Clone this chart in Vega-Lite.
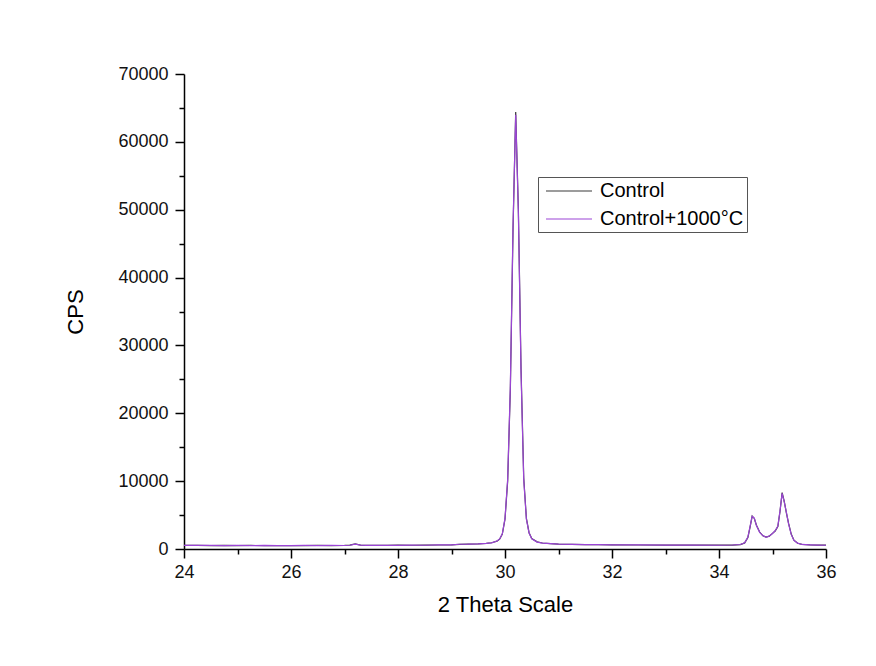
{
  "$schema": "https://vega.github.io/schema/vega-lite/v6.json",
  "width": 642,
  "height": 475,
  "autosize": "none",
  "padding": {"left": 184, "top": 74, "right": 50, "bottom": 117},
  "background": "white",
  "config": {
    "view": {"stroke": null},
    "font": "Liberation Sans",
    "axis": {
      "grid": false,
      "domainColor": "#000000",
      "domainWidth": 1.5,
      "tickColor": "#000000",
      "tickWidth": 1.5,
      "labelFont": "Liberation Sans",
      "labelFontSize": 18,
      "labelColor": "#111111",
      "labelFlush": false,
      "titleFont": "Liberation Sans",
      "titleFontSize": 22,
      "titleFontWeight": "normal",
      "titleColor": "#000000"
    }
  },
  "datasets": {
    "xrd": [
      {"x": 24.0, "cps": 520, "series": "Control"},
      {"x": 24.25, "cps": 540, "series": "Control"},
      {"x": 24.5, "cps": 510, "series": "Control"},
      {"x": 24.75, "cps": 530, "series": "Control"},
      {"x": 25.0, "cps": 500, "series": "Control"},
      {"x": 25.25, "cps": 520, "series": "Control"},
      {"x": 25.5, "cps": 510, "series": "Control"},
      {"x": 25.75, "cps": 490, "series": "Control"},
      {"x": 26.0, "cps": 510, "series": "Control"},
      {"x": 26.25, "cps": 500, "series": "Control"},
      {"x": 26.5, "cps": 520, "series": "Control"},
      {"x": 26.75, "cps": 510, "series": "Control"},
      {"x": 27.0, "cps": 530, "series": "Control"},
      {"x": 27.1, "cps": 560, "series": "Control"},
      {"x": 27.2, "cps": 760, "series": "Control"},
      {"x": 27.3, "cps": 580, "series": "Control"},
      {"x": 27.4, "cps": 530, "series": "Control"},
      {"x": 27.6, "cps": 520, "series": "Control"},
      {"x": 27.8, "cps": 540, "series": "Control"},
      {"x": 28.0, "cps": 560, "series": "Control"},
      {"x": 28.25, "cps": 550, "series": "Control"},
      {"x": 28.5, "cps": 570, "series": "Control"},
      {"x": 28.75, "cps": 590, "series": "Control"},
      {"x": 29.0, "cps": 620, "series": "Control"},
      {"x": 29.15, "cps": 680, "series": "Control"},
      {"x": 29.3, "cps": 720, "series": "Control"},
      {"x": 29.5, "cps": 750, "series": "Control"},
      {"x": 29.65, "cps": 820, "series": "Control"},
      {"x": 29.75, "cps": 920, "series": "Control"},
      {"x": 29.85, "cps": 1150, "series": "Control"},
      {"x": 29.9, "cps": 1450, "series": "Control"},
      {"x": 29.95, "cps": 2200, "series": "Control"},
      {"x": 30.0, "cps": 4400, "series": "Control"},
      {"x": 30.05, "cps": 10000, "series": "Control"},
      {"x": 30.1, "cps": 23500, "series": "Control"},
      {"x": 30.15, "cps": 47000, "series": "Control"},
      {"x": 30.2, "cps": 64400, "series": "Control"},
      {"x": 30.25, "cps": 50000, "series": "Control"},
      {"x": 30.3, "cps": 26500, "series": "Control"},
      {"x": 30.35, "cps": 10500, "series": "Control"},
      {"x": 30.4, "cps": 4500, "series": "Control"},
      {"x": 30.45, "cps": 2400, "series": "Control"},
      {"x": 30.5, "cps": 1550, "series": "Control"},
      {"x": 30.6, "cps": 1050, "series": "Control"},
      {"x": 30.7, "cps": 880, "series": "Control"},
      {"x": 30.85, "cps": 780, "series": "Control"},
      {"x": 31.0, "cps": 720, "series": "Control"},
      {"x": 31.25, "cps": 680, "series": "Control"},
      {"x": 31.5, "cps": 650, "series": "Control"},
      {"x": 31.75, "cps": 630, "series": "Control"},
      {"x": 32.0, "cps": 610, "series": "Control"},
      {"x": 32.5, "cps": 590, "series": "Control"},
      {"x": 33.0, "cps": 570, "series": "Control"},
      {"x": 33.5, "cps": 560, "series": "Control"},
      {"x": 34.0, "cps": 560, "series": "Control"},
      {"x": 34.25, "cps": 580, "series": "Control"},
      {"x": 34.4, "cps": 650, "series": "Control"},
      {"x": 34.48, "cps": 900, "series": "Control"},
      {"x": 34.54, "cps": 1700, "series": "Control"},
      {"x": 34.58, "cps": 3200, "series": "Control"},
      {"x": 34.62, "cps": 4850, "series": "Control"},
      {"x": 34.66, "cps": 4500, "series": "Control"},
      {"x": 34.7, "cps": 3500, "series": "Control"},
      {"x": 34.76, "cps": 2500, "series": "Control"},
      {"x": 34.82, "cps": 1950, "series": "Control"},
      {"x": 34.88, "cps": 1750, "series": "Control"},
      {"x": 34.94, "cps": 1900, "series": "Control"},
      {"x": 35.0, "cps": 2300, "series": "Control"},
      {"x": 35.05, "cps": 2650, "series": "Control"},
      {"x": 35.1, "cps": 3300, "series": "Control"},
      {"x": 35.14, "cps": 5500, "series": "Control"},
      {"x": 35.18, "cps": 8300, "series": "Control"},
      {"x": 35.22, "cps": 7000, "series": "Control"},
      {"x": 35.26, "cps": 5300, "series": "Control"},
      {"x": 35.3, "cps": 3800, "series": "Control"},
      {"x": 35.35, "cps": 2200, "series": "Control"},
      {"x": 35.4, "cps": 1300, "series": "Control"},
      {"x": 35.47, "cps": 850, "series": "Control"},
      {"x": 35.55, "cps": 680, "series": "Control"},
      {"x": 35.7, "cps": 600, "series": "Control"},
      {"x": 35.85, "cps": 580, "series": "Control"},
      {"x": 36.0, "cps": 560, "series": "Control"},
      {"x": 24.0, "cps": 540, "series": "Control+1000°C"},
      {"x": 24.25, "cps": 520, "series": "Control+1000°C"},
      {"x": 24.5, "cps": 530, "series": "Control+1000°C"},
      {"x": 24.75, "cps": 510, "series": "Control+1000°C"},
      {"x": 25.0, "cps": 525, "series": "Control+1000°C"},
      {"x": 25.25, "cps": 500, "series": "Control+1000°C"},
      {"x": 25.5, "cps": 530, "series": "Control+1000°C"},
      {"x": 25.75, "cps": 510, "series": "Control+1000°C"},
      {"x": 26.0, "cps": 495, "series": "Control+1000°C"},
      {"x": 26.25, "cps": 520, "series": "Control+1000°C"},
      {"x": 26.5, "cps": 505, "series": "Control+1000°C"},
      {"x": 26.75, "cps": 525, "series": "Control+1000°C"},
      {"x": 27.0, "cps": 515, "series": "Control+1000°C"},
      {"x": 27.1, "cps": 550, "series": "Control+1000°C"},
      {"x": 27.2, "cps": 720, "series": "Control+1000°C"},
      {"x": 27.3, "cps": 570, "series": "Control+1000°C"},
      {"x": 27.4, "cps": 520, "series": "Control+1000°C"},
      {"x": 27.6, "cps": 535, "series": "Control+1000°C"},
      {"x": 27.8, "cps": 525, "series": "Control+1000°C"},
      {"x": 28.0, "cps": 545, "series": "Control+1000°C"},
      {"x": 28.25, "cps": 565, "series": "Control+1000°C"},
      {"x": 28.5, "cps": 555, "series": "Control+1000°C"},
      {"x": 28.75, "cps": 600, "series": "Control+1000°C"},
      {"x": 29.0, "cps": 610, "series": "Control+1000°C"},
      {"x": 29.15, "cps": 700, "series": "Control+1000°C"},
      {"x": 29.3, "cps": 710, "series": "Control+1000°C"},
      {"x": 29.5, "cps": 760, "series": "Control+1000°C"},
      {"x": 29.65, "cps": 830, "series": "Control+1000°C"},
      {"x": 29.75, "cps": 910, "series": "Control+1000°C"},
      {"x": 29.85, "cps": 1170, "series": "Control+1000°C"},
      {"x": 29.9, "cps": 1480, "series": "Control+1000°C"},
      {"x": 29.95, "cps": 2250, "series": "Control+1000°C"},
      {"x": 30.0, "cps": 4500, "series": "Control+1000°C"},
      {"x": 30.05, "cps": 10300, "series": "Control+1000°C"},
      {"x": 30.1, "cps": 24000, "series": "Control+1000°C"},
      {"x": 30.15, "cps": 47500, "series": "Control+1000°C"},
      {"x": 30.2, "cps": 64000, "series": "Control+1000°C"},
      {"x": 30.25, "cps": 49500, "series": "Control+1000°C"},
      {"x": 30.3, "cps": 26000, "series": "Control+1000°C"},
      {"x": 30.35, "cps": 10200, "series": "Control+1000°C"},
      {"x": 30.4, "cps": 4400, "series": "Control+1000°C"},
      {"x": 30.45, "cps": 2350, "series": "Control+1000°C"},
      {"x": 30.5, "cps": 1500, "series": "Control+1000°C"},
      {"x": 30.6, "cps": 1020, "series": "Control+1000°C"},
      {"x": 30.7, "cps": 870, "series": "Control+1000°C"},
      {"x": 30.85, "cps": 790, "series": "Control+1000°C"},
      {"x": 31.0, "cps": 710, "series": "Control+1000°C"},
      {"x": 31.25, "cps": 690, "series": "Control+1000°C"},
      {"x": 31.5, "cps": 640, "series": "Control+1000°C"},
      {"x": 31.75, "cps": 640, "series": "Control+1000°C"},
      {"x": 32.0, "cps": 600, "series": "Control+1000°C"},
      {"x": 32.5, "cps": 600, "series": "Control+1000°C"},
      {"x": 33.0, "cps": 560, "series": "Control+1000°C"},
      {"x": 33.5, "cps": 570, "series": "Control+1000°C"},
      {"x": 34.0, "cps": 550, "series": "Control+1000°C"},
      {"x": 34.25, "cps": 590, "series": "Control+1000°C"},
      {"x": 34.4, "cps": 660, "series": "Control+1000°C"},
      {"x": 34.48, "cps": 920, "series": "Control+1000°C"},
      {"x": 34.54, "cps": 1750, "series": "Control+1000°C"},
      {"x": 34.58, "cps": 3300, "series": "Control+1000°C"},
      {"x": 34.62, "cps": 4800, "series": "Control+1000°C"},
      {"x": 34.66, "cps": 4550, "series": "Control+1000°C"},
      {"x": 34.7, "cps": 3450, "series": "Control+1000°C"},
      {"x": 34.76, "cps": 2450, "series": "Control+1000°C"},
      {"x": 34.82, "cps": 1980, "series": "Control+1000°C"},
      {"x": 34.88, "cps": 1720, "series": "Control+1000°C"},
      {"x": 34.94, "cps": 1920, "series": "Control+1000°C"},
      {"x": 35.0, "cps": 2280, "series": "Control+1000°C"},
      {"x": 35.05, "cps": 2700, "series": "Control+1000°C"},
      {"x": 35.1, "cps": 3400, "series": "Control+1000°C"},
      {"x": 35.14, "cps": 5600, "series": "Control+1000°C"},
      {"x": 35.18, "cps": 8200, "series": "Control+1000°C"},
      {"x": 35.22, "cps": 6900, "series": "Control+1000°C"},
      {"x": 35.26, "cps": 5400, "series": "Control+1000°C"},
      {"x": 35.3, "cps": 3700, "series": "Control+1000°C"},
      {"x": 35.35, "cps": 2150, "series": "Control+1000°C"},
      {"x": 35.4, "cps": 1280, "series": "Control+1000°C"},
      {"x": 35.47, "cps": 860, "series": "Control+1000°C"},
      {"x": 35.55, "cps": 670, "series": "Control+1000°C"},
      {"x": 35.7, "cps": 610, "series": "Control+1000°C"},
      {"x": 35.85, "cps": 570, "series": "Control+1000°C"},
      {"x": 36.0, "cps": 550, "series": "Control+1000°C"}
    ]
  },
  "data": {"name": "xrd"},
  "layer": [
    {
      "mark": {"type": "line", "opacity": 0},
      "encoding": {
        "x": {
          "field": "x",
          "type": "quantitative",
          "scale": {"domain": [24, 36], "nice": false, "zero": false},
          "axis": {
            "orient": "bottom",
            "title": null,
            "values": [25, 27, 29, 31, 33, 35],
            "labels": false,
            "domain": false,
            "tickSize": 5
          }
        },
        "y": {
          "field": "cps",
          "type": "quantitative",
          "scale": {"domain": [0, 70000], "nice": false},
          "axis": {
            "orient": "left",
            "title": null,
            "values": [5000, 15000, 25000, 35000, 45000, 55000, 65000],
            "labels": false,
            "domain": false,
            "tickSize": 5
          }
        },
        "detail": {"field": "series", "type": "nominal"}
      }
    },
    {
      "mark": {"type": "line", "strokeWidth": 1.2, "clip": true},
      "encoding": {
        "x": {
          "field": "x",
          "type": "quantitative",
          "scale": {"domain": [24, 36], "nice": false, "zero": false},
          "axis": {
            "orient": "bottom",
            "title": "2 Theta Scale",
            "values": [24, 26, 28, 30, 32, 34, 36],
            "tickSize": 9,
            "labelPadding": 5,
            "titlePadding": 13
          }
        },
        "y": {
          "field": "cps",
          "type": "quantitative",
          "scale": {"domain": [0, 70000], "nice": false},
          "axis": {
            "orient": "left",
            "title": "CPS",
            "values": [0, 10000, 20000, 30000, 40000, 50000, 60000, 70000],
            "format": "d",
            "tickSize": 9,
            "labelPadding": 7,
            "titlePadding": 30
          }
        },
        "color": {
          "field": "series",
          "type": "nominal",
          "scale": {"domain": ["Control", "Control+1000°C"], "range": ["#3a3a3a", "#9b45d6"]},
          "legend": {
            "title": null,
            "orient": "none",
            "legendX": 354,
            "legendY": 103,
            "symbolType": "M-2.3,0H2.3",
            "symbolSize": 400,
            "symbolStrokeWidth": 1.2,
            "symbolOffset": 17,
            "labelFont": "Liberation Sans",
            "labelFontSize": 20,
            "labelColor": "#000000",
            "labelOffset": 20,
            "rowPadding": 7,
            "padding": 3,
            "strokeColor": "#555555",
            "fillColor": "white",
            "cornerRadius": 0
          }
        }
      }
    }
  ],
  "resolve": {"axis": {"x": "independent", "y": "independent"}}
}
